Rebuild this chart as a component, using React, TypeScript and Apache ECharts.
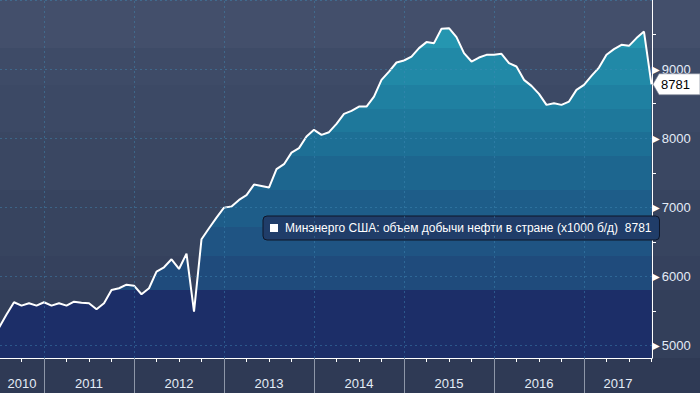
import React, { useEffect, useRef } from "react";
import * as echarts from "echarts";

// ---------- data ----------
const seriesName = "Минэнерго США: объем добычи нефти в стране (x1000 б/д)";

const months = [
  "2010-07", "2010-08", "2010-09", "2010-10", "2010-11", "2010-12",
  "2011-01", "2011-02", "2011-03", "2011-04", "2011-05", "2011-06",
  "2011-07", "2011-08", "2011-09", "2011-10", "2011-11", "2011-12",
  "2012-01", "2012-02", "2012-03", "2012-04", "2012-05", "2012-06",
  "2012-07", "2012-08", "2012-09", "2012-10", "2012-11", "2012-12",
  "2013-01", "2013-02", "2013-03", "2013-04", "2013-05", "2013-06",
  "2013-07", "2013-08", "2013-09", "2013-10", "2013-11", "2013-12",
  "2014-01", "2014-02", "2014-03", "2014-04", "2014-05", "2014-06",
  "2014-07", "2014-08", "2014-09", "2014-10", "2014-11", "2014-12",
  "2015-01", "2015-02", "2015-03", "2015-04", "2015-05", "2015-06",
  "2015-07", "2015-08", "2015-09", "2015-10", "2015-11", "2015-12",
  "2016-01", "2016-02", "2016-03", "2016-04", "2016-05", "2016-06",
  "2016-07", "2016-08", "2016-09", "2016-10", "2016-11", "2016-12",
  "2017-01", "2017-02", "2017-03", "2017-04", "2017-05", "2017-06",
  "2017-07", "2017-08", "2017-09", "2017-10",
];

const production = [
  5260, 5450, 5628, 5579, 5614, 5579,
  5628, 5579, 5614, 5579, 5637, 5622,
  5614, 5527, 5614, 5806, 5831, 5883,
  5868, 5744, 5831, 6071, 6134, 6250,
  6110, 6331, 5492, 6540, 6699, 6852,
  6997, 7012, 7109, 7177, 7330, 7311,
  7287, 7553, 7625, 7793, 7857, 8025,
  8122, 8049, 8088, 8208, 8353, 8397,
  8459, 8459, 8603, 8845, 8965, 9096,
  9125, 9182, 9304, 9391, 9376, 9583,
  9593, 9463, 9231, 9110, 9168, 9207,
  9207, 9222, 9087, 9038, 8845, 8758,
  8642, 8483, 8508, 8483, 8531, 8700,
  8773, 8903, 9023, 9207, 9289, 9352,
  9337, 9449, 9544, 8781,
];

const years = [2010, 2011, 2012, 2013, 2014, 2015, 2016, 2017];
const yLabelValues = [5000, 6000, 7000, 8000, 9000];
const yMinorTickValues = [5500, 6500, 7500, 8500, 9500];
const yGridValues = [5000, 6000, 7000, 8000, 9000, 10000];

// visible range (months since Jan 2010) and value range
const xViewMin = 6.13;
const xViewMax = 93.07;
const yViewMin = 4822;
const yViewMax = 10000;

// ---------- helpers ----------
const baseYear = years[0];
const monthIndex = (s: string) => {
  const [y, m] = s.split("-").map(Number);
  return (y - baseYear) * 12 + (m - 1);
};
const points = months.map((m, i) => [monthIndex(m), production[i]]);
const yearStarts = years.map((y) => (y - baseYear) * 12).filter((v) => v > xViewMin && v < xViewMax);
const quarterTicks: number[] = [];
for (let q = Math.ceil(xViewMin / 3) * 3; q <= xViewMax; q += 3) {
  if (q % 12 !== 0) quarterTicks.push(q);
}
const yearCenters = years.map((y) => {
  const lo = Math.max((y - baseYear) * 12, xViewMin);
  const hi = Math.min((y - baseYear + 1) * 12, xViewMax);
  return (lo + hi) / 2;
});
const lastPoint = points[points.length - 1];

// ---------- style ----------
const PLOT_H = 358;
const areaBands: [number, number, string][] = [
  [0, 48, "#2596b0"],
  [48, 85, "#2189a7"],
  [85, 109, "#1f80a1"],
  [109, 132, "#1e789b"],
  [132, 156, "#1d6f95"],
  [156, 190, "#1d668f"],
  [190, 227, "#1e5d89"],
  [227, 256, "#1f5483"],
  [256, 290, "#1f4b7c"],
  [290, 358, "#1c2e68"],
];
const bgBands: [number, number, string][] = [
  [0, 48, "#434f6b"],
  [48, 85, "#3e4b67"],
  [85, 132, "#3c4965"],
  [132, 190, "#3a4762"],
  [190, 256, "#37445f"],
  [256, 290, "#35415d"],
  [290, 358, "#333f5a"],
  [358, 393, "#2f3a55"],
];
const bgCss =
  "linear-gradient(to bottom, " +
  bgBands.map(([a, b, c]) => `${c} ${a}px, ${c} ${b}px`).join(", ") +
  ")";

const gridLine = { color: "rgba(65,140,185,0.45)", width: 1, type: [2, 3] as any };

export default function App() {
  const ref = useRef<HTMLDivElement>(null);
  useEffect(() => {
    if (!ref.current) return;
    const chart = echarts.init(ref.current, undefined, { renderer: "svg" });
    const stops: { offset: number; color: string }[] = [];
    areaBands.forEach(([a, b, c]) => {
      stops.push({ offset: a / PLOT_H, color: c });
      stops.push({ offset: b / PLOT_H, color: c });
    });
    const areaGrad = new echarts.graphic.LinearGradient(0, 0, 0, PLOT_H, stops, true);

    chart.setOption({
      animation: false,
      backgroundColor: "transparent",
      grid: { left: 0, right: 48, top: 0, bottom: 35, containLabel: false },
      legend: {
        show: true,
        data: [{ name: seriesName, icon: "rect" }],
        left: 263,
        top: 216,
        backgroundColor: "#203d69",
        borderColor: "#0e1628",
        borderWidth: 1,
        borderRadius: 4,
        padding: [6, 8, 6, 7],
        itemWidth: 8,
        itemHeight: 8,
        selectedMode: false,
        textStyle: { color: "#ffffff", fontSize: 12, fontFamily: "Liberation Sans", padding: [0, 0, 0, 2] },
        formatter: (name: string) => `${name}  ${lastPoint[1]}`,
      },
      xAxis: [
        {
          type: "value",
          min: xViewMin,
          max: xViewMax,
          position: "bottom",
          axisLine: { show: true, lineStyle: { color: "#ffffff", width: 1 } },
          axisTick: { show: true, customValues: quarterTicks, length: 4, lineStyle: { color: "#ffffff" } },
          axisLabel: {
            show: true,
            customValues: yearCenters,
            formatter: (v: number) => String(baseYear + Math.floor(v / 12)),
            color: "#e4ecf7",
            fontSize: 13,
            fontFamily: "Liberation Sans",
            margin: 19,
          },
          splitLine: { show: false },
        },
        {
          type: "value",
          min: xViewMin,
          max: xViewMax,
          position: "bottom",
          axisLine: { show: false },
          axisTick: { show: true, customValues: yearStarts, length: 35, lineStyle: { color: "#8d96a8", width: 1 } },
          axisLabel: { show: false },
          splitLine: { show: false },
        },
      ],
      yAxis: {
        type: "value",
        position: "right",
        min: yViewMin,
        max: yViewMax,
        axisLine: { show: true, lineStyle: { color: "#ffffff", width: 1 } },
        axisTick: { show: true, customValues: yMinorTickValues, length: 4, lineStyle: { color: "#ffffff" } },
        axisLabel: {
          show: true,
          customValues: yLabelValues,
          margin: 0,
          formatter: (v: number) => `{t|▶}{n|${v}}`,
          rich: {
            t: { fontSize: 10, color: "#ffffff", fontFamily: "DejaVu Sans", padding: [0, 2, 0, 0] },
            n: { fontSize: 13, color: "#e4ecf7", fontFamily: "Liberation Sans" },
          },
        },
        splitLine: { show: false },
      },
      series: [
        {
          name: "area",
          type: "line",
          data: points,
          symbol: "none",
          clip: false,
          lineStyle: { opacity: 0, width: 0 },
          areaStyle: { color: areaGrad, opacity: 1 },
          silent: true,
        },
        {
          name: "grid",
          type: "line",
          data: [],
          symbol: "none",
          silent: true,
          markLine: {
            silent: true,
            symbol: "none",
            label: { show: false },
            lineStyle: gridLine,
            data: [
              ...yGridValues.map((v) => ({ yAxis: v })),
              ...yearStarts.map((v) => ({ xAxis: v })),
            ],
          },
        },
        {
          name: seriesName,
          type: "line",
          data: points,
          symbol: "none",
          clip: false,
          color: "#ffffff",
          itemStyle: { color: "#ffffff" },
          lineStyle: { color: "#ffffff", width: 2 },
          markPoint: {
            silent: true,
            symbol: "path://M0 10 L6 0 L46 0 L46 20 L6 20 Z",
            symbolSize: [47, 21],
            symbolKeepAspect: false,
            symbolOffset: [25, 0],
            itemStyle: { color: "#ffffff", borderColor: "#7f8796", borderWidth: 0.6 },
            label: {
              show: true,
              position: "inside",
              color: "#000000",
              fontSize: 13,
              fontFamily: "Liberation Sans",
              offset: [-1, 0],
              formatter: (p: any) => String(p.value),
            },
            data: [{ coord: lastPoint, value: lastPoint[1] }],
          },
        },
      ],
    });
    return () => chart.dispose();
  }, []);

  return (
    <div
      style={{
        position: "absolute",
        left: 0,
        top: 0,
        width: 700,
        height: 393,
        background: bgCss,
        overflow: "hidden",
      }}
    >
      <div ref={ref} style={{ width: 700, height: 393 }} />
    </div>
  );
}
